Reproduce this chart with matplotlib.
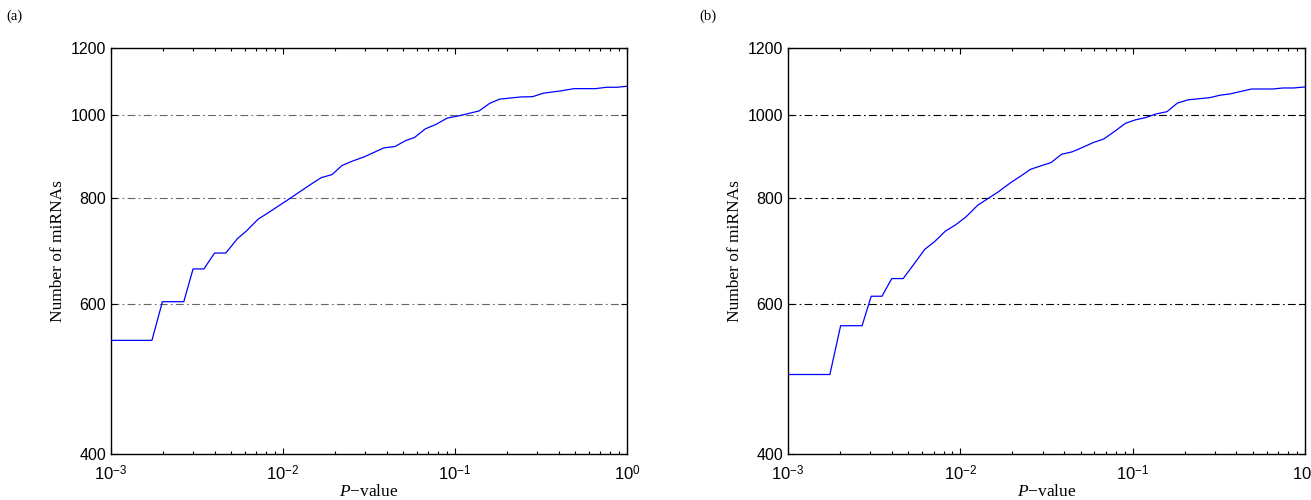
import matplotlib
matplotlib.use("Agg")
import matplotlib.pyplot as plt
import matplotlib.ticker as mticker

#
# Data
#
pvals_a = [0.001, 0.00173, 0.00199, 0.00265, 0.0030, 0.00347, 0.0040, 0.00465,
           0.00542, 0.00611, 0.00716, 0.00834, 0.0111, 0.0148, 0.0167, 0.0193,
           0.0220, 0.0251, 0.0297, 0.0387, 0.0447, 0.0516, 0.0582, 0.0671,
           0.0776, 0.0904, 0.1035, 0.138, 0.159, 0.182, 0.240, 0.283, 0.327,
           0.406, 0.492, 0.656, 0.759, 0.875, 1.0]
counts_a = [544, 544, 604, 604, 660, 660, 689, 689, 716, 731, 755, 770, 800,
            832, 845, 852, 873, 883, 894, 916, 919, 934, 942, 964, 976, 993,
            998, 1012, 1033, 1045, 1051, 1052, 1062, 1068, 1075, 1075, 1079,
            1079, 1082]

pvals_b = [0.001, 0.00175, 0.00202, 0.00269, 0.00304, 0.00351, 0.0040, 0.00466,
           0.00536, 0.00622, 0.00711, 0.00818, 0.00942, 0.0108, 0.0126, 0.0144,
           0.0166, 0.0195, 0.0225, 0.0255, 0.0291, 0.0336, 0.0386, 0.0445,
           0.0512, 0.0590, 0.0679, 0.0782, 0.0910, 0.1038, 0.119, 0.137, 0.158,
           0.182, 0.210, 0.242, 0.279, 0.321, 0.369, 0.425, 0.490, 0.649, 0.746,
           0.861, 1.0]
counts_b = [496, 496, 566, 566, 613, 613, 643, 643, 668, 696, 711, 731, 744,
            760, 784, 798, 813, 833, 849, 864, 872, 880, 900, 906, 917, 929,
            938, 957, 979, 988, 994, 1004, 1010, 1034, 1043, 1046, 1049, 1056,
            1060, 1067, 1074, 1074, 1077, 1077, 1080]

y_ticks = [400, 600, 800, 1000, 1200]
grid_levels = [600, 800, 1000]
x_ticks = [1e-3, 1e-2, 1e-1, 1e0]
x_ticklabels = [r'$10^{-3}$', r'$10^{-2}$', r'$10^{-1}$', r'$10^{0}$']
panel_labels = ['(a)', '(b)']

plt.rcParams['mathtext.fontset'] = 'custom'
plt.rcParams['mathtext.rm'] = 'Liberation Sans'
plt.rcParams['mathtext.it'] = 'Liberation Serif:italic'
plt.rcParams['font.family'] = 'Liberation Sans'

fig = plt.figure(figsize=(13.11, 5.0), dpi=100)

ax_a = fig.add_axes([111/1311, 46/500, 516/1311, 406/500])
ax_b = fig.add_axes([788/1311, 46/500, 517/1311, 406/500])

panels = [(ax_a, pvals_a, counts_a, '0.4'), (ax_b, pvals_b, counts_b, 'k')]

for i, (ax, pv, cnt, gcol) in enumerate(panels):
    ax.plot(pv, cnt, color='#0000ff', linewidth=0.9, zorder=3)

    ax.set_xscale('log')
    ax.set_yscale('log')
    ax.set_xlim(1e-3, 1)
    ax.set_ylim(400, 1200)

    # dash-dot reference lines
    for lev in grid_levels:
        ax.axhline(lev, color=gcol, linewidth=0.8, linestyle=(0, (7, 3, 1.5, 3)), zorder=1)

    ax.yaxis.set_major_locator(mticker.FixedLocator(y_ticks))
    ax.yaxis.set_major_formatter(mticker.FixedFormatter([str(v) for v in y_ticks]))
    ax.yaxis.set_minor_locator(mticker.NullLocator())
    ax.xaxis.set_major_locator(mticker.FixedLocator(x_ticks))
    ax.xaxis.set_major_formatter(mticker.FixedFormatter(x_ticklabels))
    ax.xaxis.set_minor_locator(mticker.LogLocator(base=10, subs=range(2, 10)))
    ax.xaxis.set_minor_formatter(mticker.NullFormatter())

    ax.tick_params(which='both', direction='in', top=True, right=True, labelsize=11.5, width=0.8)
    ax.tick_params(which='major', length=4.5)
    ax.tick_params(which='minor', length=2.5)
    ax.tick_params(axis='x', pad=7.5, labelsize=12)
    for sp in ax.spines.values():
        sp.set_linewidth(1.0)

    ax.set_ylabel('Number of miRNAs', family='Liberation Serif', fontsize=12.5, labelpad=3)
    ax.set_xlabel(r'$\mathit{P}$' + '\u2212value', family='Liberation Serif', fontsize=12.5, labelpad=0)

fig.text(6/1311, 1 - 16/500, panel_labels[0], family='Liberation Serif', fontsize=10.5, va='center')
fig.text(699/1311, 1 - 16/500, panel_labels[1], family='Liberation Serif', fontsize=10.5, va='center')

fig.savefig('out.png', dpi=100)
